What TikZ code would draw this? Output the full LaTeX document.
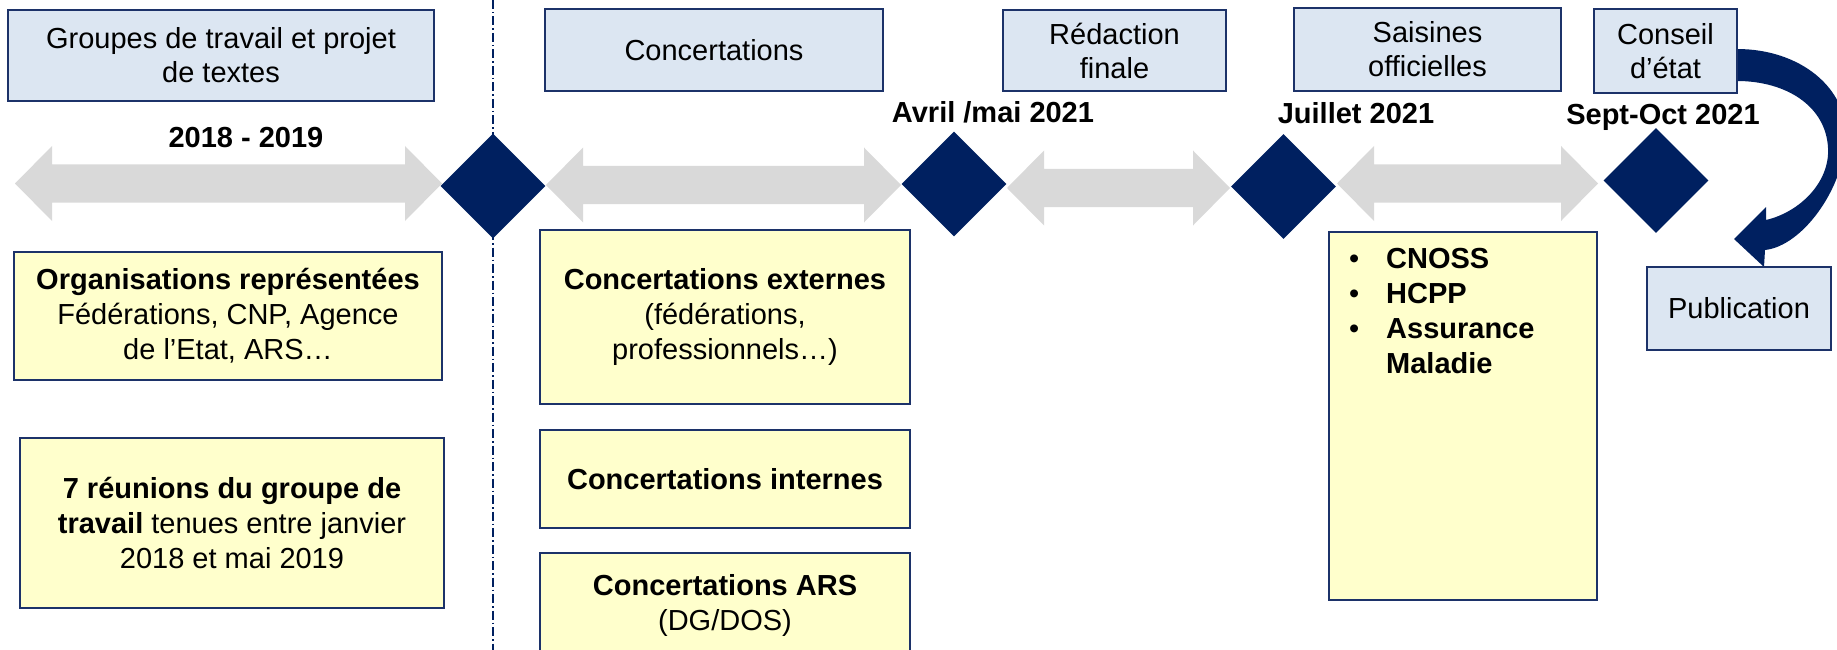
\documentclass[tikz,border=0pt]{standalone}
\usepackage{fontspec}
\setmainfont{Liberation Sans}
\usetikzlibrary{shapes.geometric}
\definecolor{navy}{RGB}{0,32,96}
\definecolor{boxline}{RGB}{28,50,105}
\definecolor{lblue}{RGB}{220,230,242}
\definecolor{lyellow}{RGB}{255,255,204}
\definecolor{agray}{RGB}{217,217,217}
\newcommand{\tlarrow}[3]{%
  \fill[agray] (#1,#3) -- ({#1+37},{#3-37.5}) -- ({#1+37},{#3-19}) -- ({#2-37},{#3-19})
    -- ({#2-37},{#3-37.5}) -- (#2,#3) -- ({#2-37},{#3+37.5}) -- ({#2-37},{#3+19})
    -- ({#1+37},{#3+19}) -- ({#1+37},{#3+37.5}) -- cycle;}
\begin{document}
\begin{tikzpicture}[x=1pt,y=-1pt,
  bluebox/.style={draw=boxline, line width=1.6pt, fill=lblue, inner sep=0pt, align=center,
    font=\fontsize{29}{34}\selectfont},
  yelbox/.style={draw=boxline, line width=1.8pt, fill=lyellow, inner sep=0pt, align=center,
    font=\fontsize{29}{35}\selectfont},
  datelabel/.style={font=\fontsize{29}{34}\selectfont\bfseries, anchor=base, inner sep=0pt},
  milestone/.style={diamond, fill=navy, minimum width=105pt, minimum height=105pt, inner sep=0pt},
  sepline/.style={draw=navy, line width=1.5pt, dash pattern=on 9pt off 3pt on 1.5pt off 3pt}]
\useasboundingbox (0,0) rectangle (1837,650);
\clip (0,0) rectangle (1837,650);

% separator
\coordinate (sepTop) at (493,0);
\coordinate (sepBot) at (493,650);
\draw[sepline] (sepTop) -- (sepBot);

% timeline arrows
\tlarrow{15}{442}{183.5}
\tlarrow{546}{901}{185}
\tlarrow{1007}{1230}{188}
\tlarrow{1337}{1598}{183.5}

% milestones
\node[milestone] (d1) at (493,186) {};
\node[milestone] (d2) at (954,184) {};
\node[milestone] (d3) at (1283.5,186.5) {};
\node[milestone] (d4) at (1656,180.5) {};

% date labels
\node[datelabel] (l1) at (246,148) {2018 - 2019};
\node[datelabel] (l2) at (993,123) {Avril /mai 2021};
\node[datelabel] (l3) at (1356,124) {Juillet 2021};
\node[datelabel] (l4) at (1663,125) {Sept-Oct 2021};

% curved arrow Conseil -> Publication
\fill[navy] (1737,49) .. controls (1800,49) and (1848,88) .. (1846,138)
  .. controls (1843,190) and (1802,246) .. (1765,250)
  -- (1764,267) -- (1734,239) -- (1766,207) -- (1766,220)
  .. controls (1800,212) and (1830,182) .. (1828,148)
  .. controls (1826,106) and (1786,81) .. (1737,81) -- cycle;

% phase boxes
\node[bluebox, minimum width=426pt, minimum height=91pt] (groupes) at (221,55.5)
  {Groupes de travail et projet\\de textes};
\node[bluebox, minimum width=338pt, minimum height=82pt] (concert) at (714,50)
  {Concertations};
\node[bluebox, minimum width=223pt, minimum height=81pt] (redac) at (1114.5,50.5)
  {Rédaction\\finale};
\node[bluebox, minimum width=267pt, minimum height=83pt] (saisT) at (1427.5,49.5)
  {Saisines\\officielles};
\node[bluebox, minimum width=143pt, minimum height=84pt] (conseil) at (1665.5,51)
  {Conseil\\d’état};
\node[bluebox, minimum width=184pt, minimum height=83pt] (pub) at (1739,308.5)
  {Publication};

% detail boxes
\node[yelbox, minimum width=428pt, minimum height=128pt] (org) at (228,316)
  {\textbf{Organisations représentées}\\Fédérations, CNP, Agence\\de l’Etat, ARS…};
\node[yelbox, minimum width=424pt, minimum height=170pt] (reun) at (232,523)
  {\textbf{7 réunions du groupe de}\\\textbf{travail} tenues entre janvier\\2018 et mai 2019};
\node[yelbox, minimum width=370pt, minimum height=174pt] (ext) at (725,317)
  {\textbf{Concertations externes}\\(fédérations,\\professionnels…)};
\node[yelbox, minimum width=370pt, minimum height=98pt] (int) at (725,479)
  {\textbf{Concertations internes}};
\node[yelbox, minimum width=370pt, minimum height=104pt] (ars) at (725,605)
  {\textbf{Concertations ARS}\\(DG/DOS)};
\node[yelbox, minimum width=268pt, minimum height=368pt] (saisL) at (1463,416) {};
\node[anchor=north west, inner sep=0pt, align=left, font=\fontsize{29}{35}\selectfont\bfseries]
  (saisList) at (1349,247.7)
  {\makebox[37pt][l]{\mdseries •}CNOSS\\\makebox[37pt][l]{\mdseries •}HCPP\\
   \makebox[37pt][l]{\mdseries •}Assurance\\\hspace*{37pt}Maladie};
\end{tikzpicture}
\end{document}
